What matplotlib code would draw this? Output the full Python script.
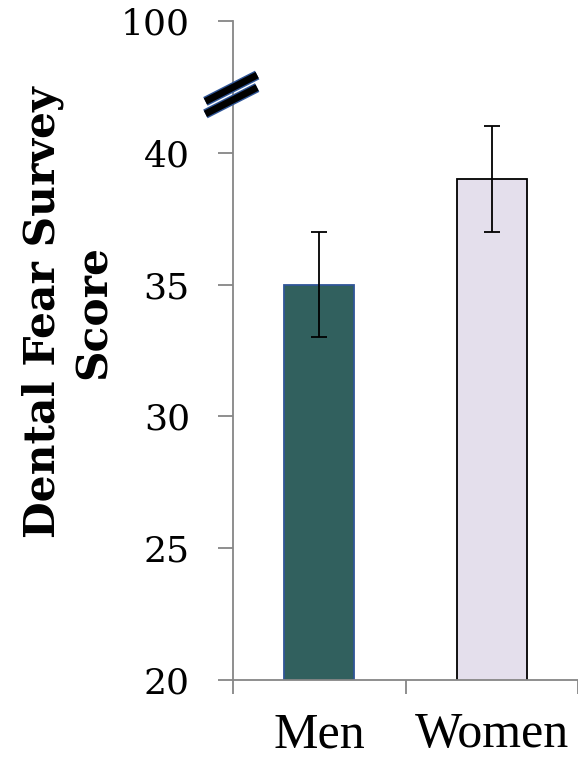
import matplotlib
matplotlib.use("Agg")
import matplotlib.pyplot as plt
import matplotlib.patheffects as pe
from matplotlib.ticker import FixedLocator

categories = ["Men", "Women"]
scores = [35, 39]
errors = [2, 2]
ytick_values = [20, 25, 30, 35, 40, 45]
ytick_labels = ["20", "25", "30", "35", "40", "100"]
bar_colors = ["#31605E", "#E4DFEC"]
edge_colors = ["#2F5597", "#000000"]

W, H = 578, 758
fig = plt.figure(figsize=(W / 100, H / 100), dpi=100)
ax = fig.add_axes([233 / W, 1 - 680 / H, (W - 233) / W, (680 - 21) / H])

x = list(range(len(categories)))
ax.bar(x, scores, width=0.405, color=bar_colors, edgecolor=edge_colors,
       linewidth=1.3, zorder=2)
ax.errorbar(x, scores, yerr=errors, fmt="none", ecolor="black",
            elinewidth=1.3, capsize=6, capthick=1.3, zorder=3)

ax.set_xlim(-0.5, 1.5)
ax.set_ylim(20, 45)

gray = "#868686"
for s in ["top", "right"]:
    ax.spines[s].set_visible(False)
for s in ["left", "bottom"]:
    ax.spines[s].set_color(gray)
    ax.spines[s].set_linewidth(1.3)

ax.set_yticks(ytick_values)
ax.set_yticklabels(ytick_labels, fontfamily="DejaVu Serif", fontsize=26)
ax.tick_params(axis="y", length=11, width=1.3, color=gray, pad=20)

ax.set_xticks(x)
ax.set_xticklabels(categories, fontfamily="Liberation Serif", fontsize=36)
ax.tick_params(axis="x", which="major", length=0, pad=23)
ax.xaxis.set_minor_locator(FixedLocator([-0.5, 0.5, 1.5]))
ax.tick_params(axis="x", which="minor", length=10, width=1.3, color=gray)

# axis break marks
stroke = [pe.Stroke(linewidth=7, foreground="#2F5597"), pe.Normal()]
for dy in [0.0, -0.019]:
    ax.plot([-0.08, 0.07], [0.878 + dy, 0.918 + dy], transform=ax.transAxes,
            color="black", linewidth=5, clip_on=False, zorder=5,
            solid_capstyle="butt", path_effects=stroke)

fig.text(68 / W, 1 - 312 / H, "Dental Fear Survey\nScore", rotation=90,
         ha="center", va="center", multialignment="center",
         fontfamily="DejaVu Serif", fontweight="bold", fontsize=30.5,
         linespacing=1.25)

fig.savefig("out.png", dpi=100)
